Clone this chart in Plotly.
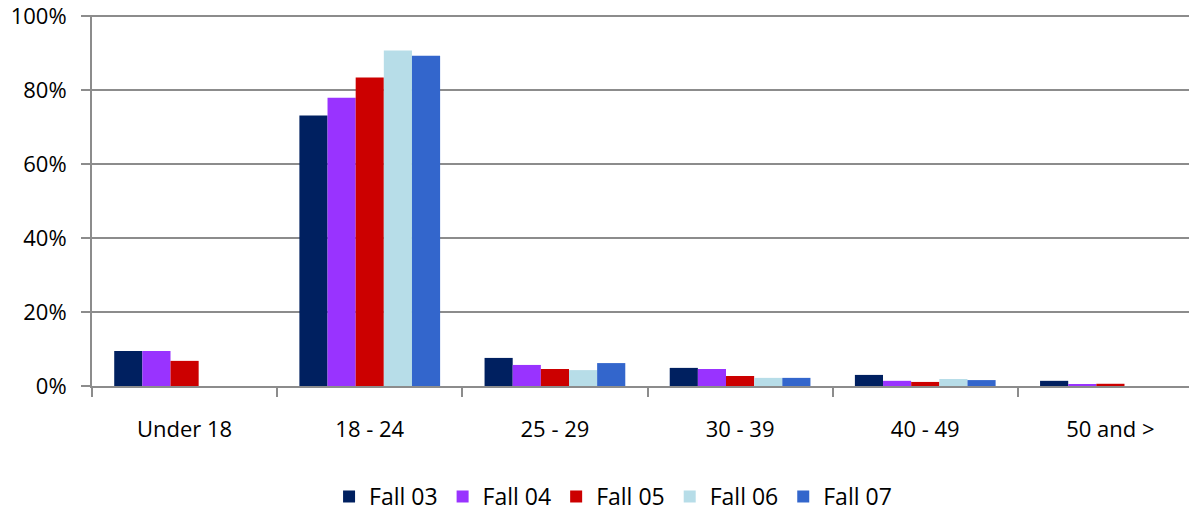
import plotly.graph_objects as go

categories = ["Under 18", "18 - 24", "25 - 29", "30 - 39", "40 - 49", "50 and >"]
series = ["Fall 03", "Fall 04", "Fall 05", "Fall 06", "Fall 07"]
fall_03 = [0.095, 0.732, 0.076, 0.049, 0.030, 0.014]
fall_04 = [0.095, 0.780, 0.057, 0.046, 0.014, 0.003]
fall_05 = [0.068, 0.835, 0.046, 0.027, 0.011, 0.006]
fall_06 = [0.0, 0.908, 0.043, 0.022, 0.019, 0.0]
fall_07 = [0.0, 0.894, 0.062, 0.022, 0.016, 0.0]
colours = ["#002060", "#9933FF", "#CC0000", "#B7DDE8", "#3366CC"]

FONT = "Open Sans, Liberation Sans, sans-serif"
AXIS_GREY = "#8c8c8c"

fig = go.Figure()
for name, vals, col in zip(series, [fall_03, fall_04, fall_05, fall_06, fall_07], colours):
    fig.add_trace(go.Bar(name=name, x=categories, y=vals, marker_color=col,
                         marker_line_width=0))

# page body adds an 8px offset, margins compensate for it
fig.update_layout(
    width=1197, height=512,
    margin=dict(l=84, r=2, t=7, b=134),
    paper_bgcolor="white", plot_bgcolor="white",
    barmode="group", bargap=0.24, bargroupgap=0,
    font=dict(family=FONT, size=22, color="#000000"),
    legend=dict(orientation="h", x=0.469, xanchor="center", y=-0.24, yanchor="top",
                font=dict(size=23), itemwidth=30, traceorder="normal"),
    showlegend=True,
)
# top of range a hair past 100% so plotly keeps the 100% gridline
fig.update_yaxes(
    range=[0, 1.004], tickformat=".0%", tickvals=[0, 0.2, 0.4, 0.6, 0.8, 1.0],
    automargin=False, ticklabeloverflow="allow",
    showgrid=True, gridcolor=AXIS_GREY, gridwidth=1.5,
    showline=True, linecolor=AXIS_GREY, linewidth=2,
    ticks="outside", ticklen=9, tickcolor=AXIS_GREY, tickwidth=2,
    ticklabelstandoff=10, zeroline=False,
)
fig.update_xaxes(
    showline=True, linecolor=AXIS_GREY, linewidth=2, automargin=False,
    ticks="outside", tickson="boundaries", ticklen=9, tickcolor=AXIS_GREY, tickwidth=2,
    ticklabelstandoff=23,
)

fig.write_html("out.html")
